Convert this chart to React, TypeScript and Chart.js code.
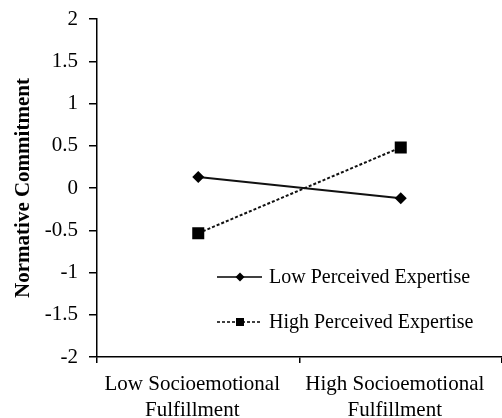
import { useEffect, useRef } from 'react';
import { Chart, registerables } from 'chart.js';

Chart.register(...registerables);

const categories: string[][] = [
  ['Low Socioemotional', 'Fulfillment'],
  ['High Socioemotional', 'Fulfillment'],
];
const seriesLabels = ['Low Perceived Expertise', 'High Perceived Expertise'];
const lowExpertise = [0.13, -0.12];
const highExpertise = [-0.535, 0.48];
const yMin = -2;
const yMax = 2;
const yStep = 0.5;
const axisTitle = 'Normative Commitment';

const FONT = "'Liberation Serif', 'Times New Roman', serif";

const insideLegend = {
  id: 'insideLegend',
  afterDatasetsDraw(chart: any) {
    const ctx = chart.ctx as CanvasRenderingContext2D;
    const rows = [277, 322];
    const x0 = 217;
    const x1 = 262;
    const xm = 240;
    chart.data.datasets.forEach((ds: any, i: number) => {
      const y = rows[i];
      ctx.save();
      ctx.strokeStyle = '#000';
      ctx.lineWidth = 1.5;
      ctx.setLineDash(ds.borderDash || []);
      ctx.beginPath();
      ctx.moveTo(x0, y);
      ctx.lineTo(x1, y);
      ctx.stroke();
      ctx.setLineDash([]);
      ctx.fillStyle = '#000';
      if (ds.pointStyle === 'rectRot') {
        const r = 4.5;
        ctx.beginPath();
        ctx.moveTo(xm, y - r);
        ctx.lineTo(xm + r, y);
        ctx.lineTo(xm, y + r);
        ctx.lineTo(xm - r, y);
        ctx.closePath();
        ctx.fill();
      } else {
        const s = 4;
        ctx.fillRect(xm - s, y - s, 2 * s, 2 * s);
      }
      ctx.font = `20px ${FONT}`;
      ctx.textAlign = 'left';
      ctx.textBaseline = 'middle';
      ctx.fillText(ds.label, 269, y + 1);
      ctx.restore();
    });
  },
};

export default function App() {
  const ref = useRef<HTMLCanvasElement | null>(null);

  useEffect(() => {
    document.body.style.margin = '0';
    if (!ref.current) return;
    const chart = new Chart(ref.current, {
      type: 'line',
      data: {
        labels: categories,
        datasets: [
          {
            label: seriesLabels[0],
            data: lowExpertise,
            borderColor: '#111',
            backgroundColor: '#000',
            borderWidth: 2,
            pointStyle: 'rectRot',
            pointRadius: 6,
            pointHoverRadius: 6,
            pointBorderWidth: 0,
            tension: 0,
          },
          {
            label: seriesLabels[1],
            data: highExpertise,
            borderColor: '#111',
            backgroundColor: '#000',
            borderWidth: 2,
            borderDash: [3, 2],
            pointStyle: 'rect',
            pointRadius: 8.5,
            pointHoverRadius: 8.5,
            pointBorderWidth: 0,
            tension: 0,
          },
        ],
      },
      options: {
        animation: false,
        responsive: false,
        maintainAspectRatio: false,
        layout: { autoPadding: false, padding: { top: 19, right: 0, left: 0, bottom: 0 } },
        plugins: {
          legend: { display: false },
          tooltip: { enabled: false },
        },
        scales: {
          x: {
            type: 'category',
            offset: true,
            grid: {
              offset: true,
              drawOnChartArea: false,
              drawTicks: true,
              tickLength: 6,
              color: '#000',
              lineWidth: 1.5,
            },
            border: { color: '#000', width: 1.5 },
            ticks: {
              color: '#000',
              font: { family: FONT, size: 21, lineHeight: 1.22 },
              padding: 9,
              labelOffset: -6,
              maxRotation: 0,
              autoSkip: false,
            },
            afterFit: (scale: any) => {
              scale.height = 61;
              scale.paddingLeft = 0;
              scale.paddingRight = 0;
            },
          },
          y: {
            min: yMin,
            max: yMax,
            grid: {
              drawOnChartArea: false,
              drawTicks: true,
              tickLength: 8,
              color: '#000',
              lineWidth: 1.5,
            },
            border: { color: '#000', width: 1.5 },
            ticks: {
              stepSize: yStep,
              color: '#000',
              font: { family: FONT, size: 21 },
              padding: 11,
              callback: (v: any) => String(Number(v)),
            },
            title: {
              display: true,
              text: axisTitle,
              color: '#000',
              font: { family: FONT, size: 21, weight: 'bold' },
              padding: { top: 11, bottom: 0 },
            },
            afterFit: (scale: any) => {
              scale.width = 97;
              scale.paddingTop = 0;
              scale.paddingBottom = 0;
            },
          },
        },
      },
      plugins: [insideLegend],
    });
    return () => chart.destroy();
  }, []);

  return (
    <div style={{ width: 502, height: 418 }}>
      <canvas ref={ref} width={502} height={418} style={{ display: 'block' }} />
    </div>
  );
}
